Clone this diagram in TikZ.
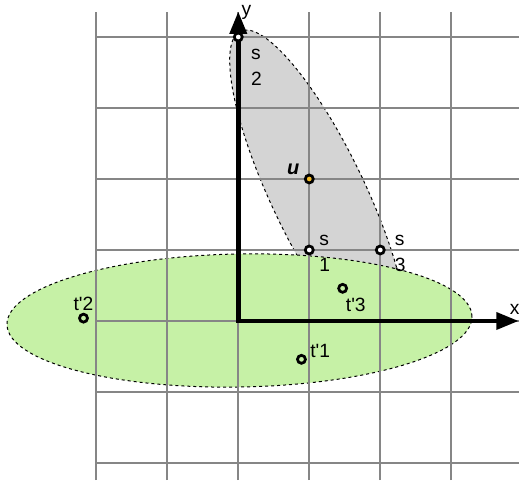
\documentclass[tikz,border=0pt]{standalone}
\usepackage{fontspec}
\setmainfont{Liberation Sans}
\usetikzlibrary{positioning,arrows.meta,shapes.geometric}
\definecolor{GridGray}{HTML}{868686}
\definecolor{SetGray}{HTML}{D4D4D4}
\definecolor{SetGreen}{HTML}{C6F1A6}
\definecolor{PtYellow}{HTML}{F3BC2A}
\tikzset{
  gridLine/.style={
    draw=GridGray,
    line width=0.9pt
  },
  axisLine/.style={
    line width=1.8pt,
    {Triangle[length=9pt,width=6.7pt]}-{Triangle[length=9pt,width=6.7pt]}
  },
  setRegion/.style={
    ellipse,
    draw=black,
    line width=0.4pt,
    dash pattern=on 1.2pt off 1.2pt,
    inner sep=0pt
  },
  ptBase/.style={
    circle,
    draw=black,
    line width=1.1pt,
    minimum size=3.2pt,
    inner sep=0pt
  },
  ptS/.style={ptBase, fill=white},
  ptT/.style={ptBase, fill=SetGreen},
  ptU/.style={ptBase, fill=PtYellow},
  ptLabel/.style={
    font=\fontsize{7.7pt}{10.3pt}\selectfont,
    inner sep=0.5pt,
    align=left
  }
}
\begin{document}
\begin{tikzpicture}
  \useasboundingbox (-3.356,-2.282) rectangle (3.954,4.521);

  % the two sets
  \node (setS) [setRegion, fill=SetGray, minimum width=5.11cm, minimum height=1.32cm, rotate=-64.5] at (1.13,1.775) {};
  \node (setT) [setRegion, fill=SetGreen, minimum width=6.55cm, minimum height=1.874cm, rotate=1] at (0.017,0.007) {};

  % grid
  \foreach \gx in {-2,...,3}
    \draw [gridLine] (\gx,-2.24) -- (\gx,4.35);
  \foreach \gy in {-2,...,4}
    \draw [gridLine] (-2,\gy) -- (3.96,\gy);

  % axes
  \coordinate (orig) at (0,0);
  \coordinate (xEnd) at (3.95,0);
  \coordinate (yEnd) at (0,4.36);
  \draw [axisLine] (yEnd) -- (orig) -- (xEnd);
  \node (xLab) [ptLabel, above=1.9pt of xEnd, xshift=-1.6pt] {x};
  \node (yLab) [ptLabel, right=0.6pt of yEnd, yshift=-0.4pt] {y};

  % points
  \node (s1) [ptS] at (1,1) {};
  \node (s2) [ptS] at (0,4) {};
  \node (s3) [ptS] at (2,1) {};
  \node (u)  [ptU] at (1,2) {};
  \node (t1) [ptT] at (0.89,-0.54) {};
  \node (t2) [ptT] at (-2.18,0.04) {};
  \node (t3) [ptT] at (1.47,0.46) {};

  % labels
  \node (s1Lab) [ptLabel, right=1.2pt of s1, yshift=-1.3pt] {s\\1};
  \node (s2Lab) [ptLabel, below right=2.7pt and 2.9pt of s2] {s\\2};
  \node (s3Lab) [ptLabel, right=3pt of s3, yshift=-1.3pt] {s\\3};
  \node (uLab)  [ptLabel, font=\fontsize{8pt}{9pt}\selectfont\bfseries\itshape, above left=-0.5pt and 1.8pt of u] {u};
  \node (t1Lab) [ptLabel, right=0.7pt of t1, yshift=3.2pt] {t\textquotesingle1};
  \node (t2Lab) [ptLabel, above=0pt of t2] {t\textquotesingle2};
  \node (t3Lab) [ptLabel, below right=1.8pt and -0.9pt of t3] {t\textquotesingle3};
\end{tikzpicture}
\end{document}
